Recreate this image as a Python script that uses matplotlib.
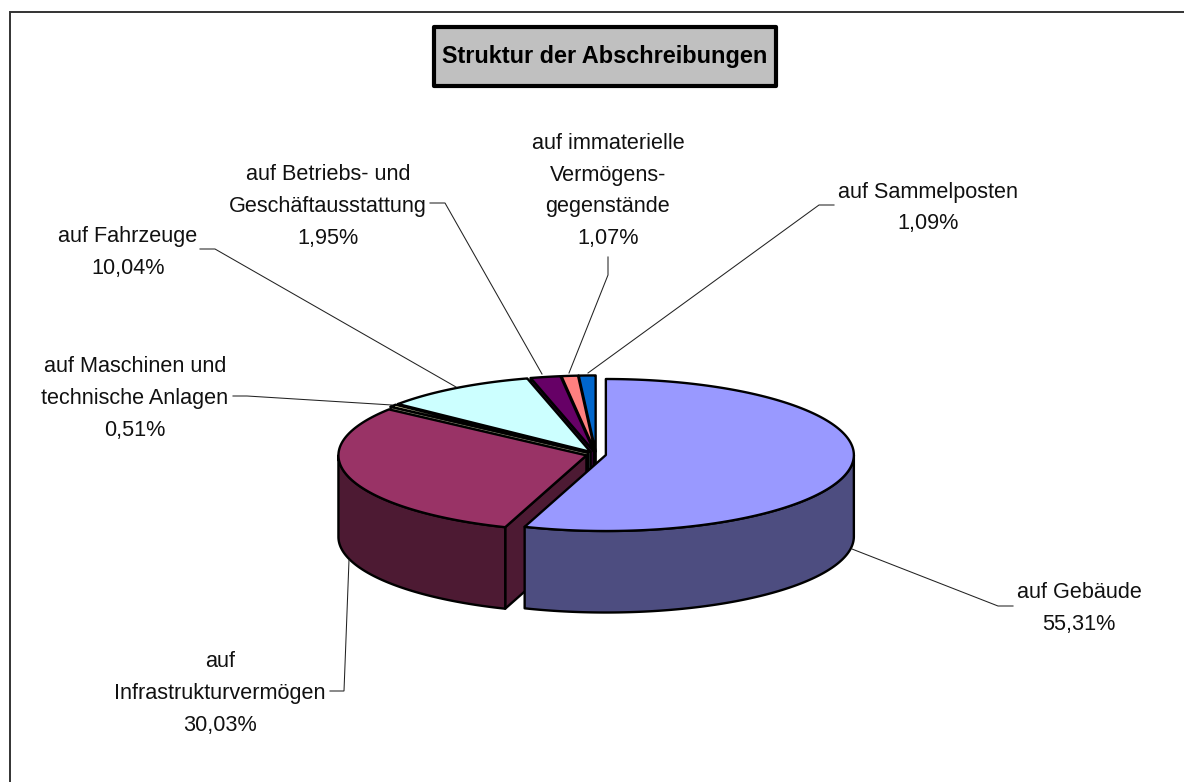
import numpy as np
import matplotlib
matplotlib.use("Agg")
import matplotlib.pyplot as plt
from matplotlib.patches import Polygon, Rectangle

# ---- data ----
names = ["auf Gebäude", "auf\nInfrastrukturvermögen", "auf Maschinen und\ntechnische Anlagen",
         "auf Fahrzeuge", "auf Betriebs- und\nGeschäftausstattung",
         "auf immaterielle\nVermögens-\ngegenstände", "auf Sammelposten"]
values = [55.31, 30.03, 0.51, 10.04, 1.95, 1.07, 1.09]
top_colors = ["#9999FF", "#993366", "#FFFFCC", "#CCFFFF", "#660066", "#FF8080", "#0066CC"]
side_colors = ["#4D4D80", "#4D1A33", "#80806A", "#6A8080", "#330033", "#804040", "#003366"]
title = "Struktur der Abschreibungen"

# ---- layout (pixels) ----
W, H = 1184, 782
CX, CY = 596.0, 454.5
A, B = 248.0, 76.0
DEPTH = 81.5
EXPLODE = 10.0
EDGE = 1.7

label_xy = [(1079, 608.5), (220, 693.5), (135, 398.5), (128, 252.5), (328, 206.5), (608, 191), (928, 208)]
leaders = [
    [(852, 549), (998, 606), (1013, 606)],
    [(349, 560), (344, 691), (330, 691)],
    [(233, 396), (247, 396), (392, 405)],
    [(200, 249), (215, 249), (456, 387)],
    [(430, 203), (445, 203), (542, 374)],
    [(608, 257), (608, 275), (569, 373)],
    [(834, 205), (819, 205), (588, 373)],
]

plt.rcParams["font.family"] = ["Liberation Sans", "DejaVu Sans"]
fig = plt.figure(figsize=(W / 100, H / 100), dpi=100, facecolor="white")
ax = fig.add_axes([0, 0, 1, 1])
ax.set_xlim(0, W)
ax.set_ylim(H, 0)
ax.axis("off")

# frame
ax.plot([9.5, 9.5, W], [H, 12, 12], color="#333333", lw=1.4, solid_joinstyle="miter", zorder=1)

# slices, clockwise from the top
total = sum(values)
edges = np.concatenate([[0], np.cumsum(values)]) / total * 360.0


def rim(ap, deg):
    r = np.radians(deg)
    return np.column_stack([ap[0] + A * np.sin(r), ap[1] - B * np.cos(r)])


z = 5
draw_order = [6, 5, 4, 3, 2, 1, 0]
for i in draw_order:
    s, e = edges[i], edges[i + 1]
    m = np.radians((s + e) / 2)
    ap = (CX + EXPLODE * np.sin(m), CY - EXPLODE * (B / A) * np.cos(m))
    arc = rim(ap, np.linspace(s, e, 200))

    # cut walls that look towards the viewer
    for deg, visible in ((s, 180 < s < 360), (e, 0 < e < 180)):
        if visible:
            p = rim(ap, np.array([deg]))[0]
            wall = [ap, p, (p[0], p[1] + DEPTH), (ap[0], ap[1] + DEPTH)]
            ax.add_patch(Polygon(wall, closed=True, fc=side_colors[i], ec="black",
                                 lw=EDGE, joinstyle="round", zorder=z))
            z += 1
    # outer skin in the front half
    lo, hi = max(s, 90.0), min(e, 270.0)
    if lo < hi:
        front = rim(ap, np.linspace(lo, hi, 200))
        skin = np.vstack([front, (front + [0, DEPTH])[::-1]])
        ax.add_patch(Polygon(skin, closed=True, fc=side_colors[i], ec="black",
                             lw=EDGE, joinstyle="round", zorder=z))
        z += 1
    # top face
    ax.add_patch(Polygon(np.vstack([[ap], arc]), closed=True, fc=top_colors[i], ec="black",
                         lw=EDGE, joinstyle="round", zorder=z))
    z += 1

# labels and leaders
for name, val, (x, y), pts in zip(names, values, label_xy, leaders):
    txt = name + "\n" + f"{val:.2f}".replace(".", ",") + "%"
    ax.text(x, y, txt, ha="center", va="center", fontsize=15.6, linespacing=1.68,
            color="#111111", zorder=60)
    px, py = zip(*pts)
    ax.plot(px, py, color="#222222", lw=0.75, solid_joinstyle="miter", zorder=50)

# title box
ax.add_patch(Rectangle((433.5, 27), 342, 58.5, fc="#C0C0C0", ec="black", lw=3.0,
                       joinstyle="round", zorder=60))
ax.text(604.5, 57, title, ha="center", va="center", fontsize=16.9, fontweight="bold",
        color="black", zorder=61)

fig.savefig("out.png", dpi=100)
